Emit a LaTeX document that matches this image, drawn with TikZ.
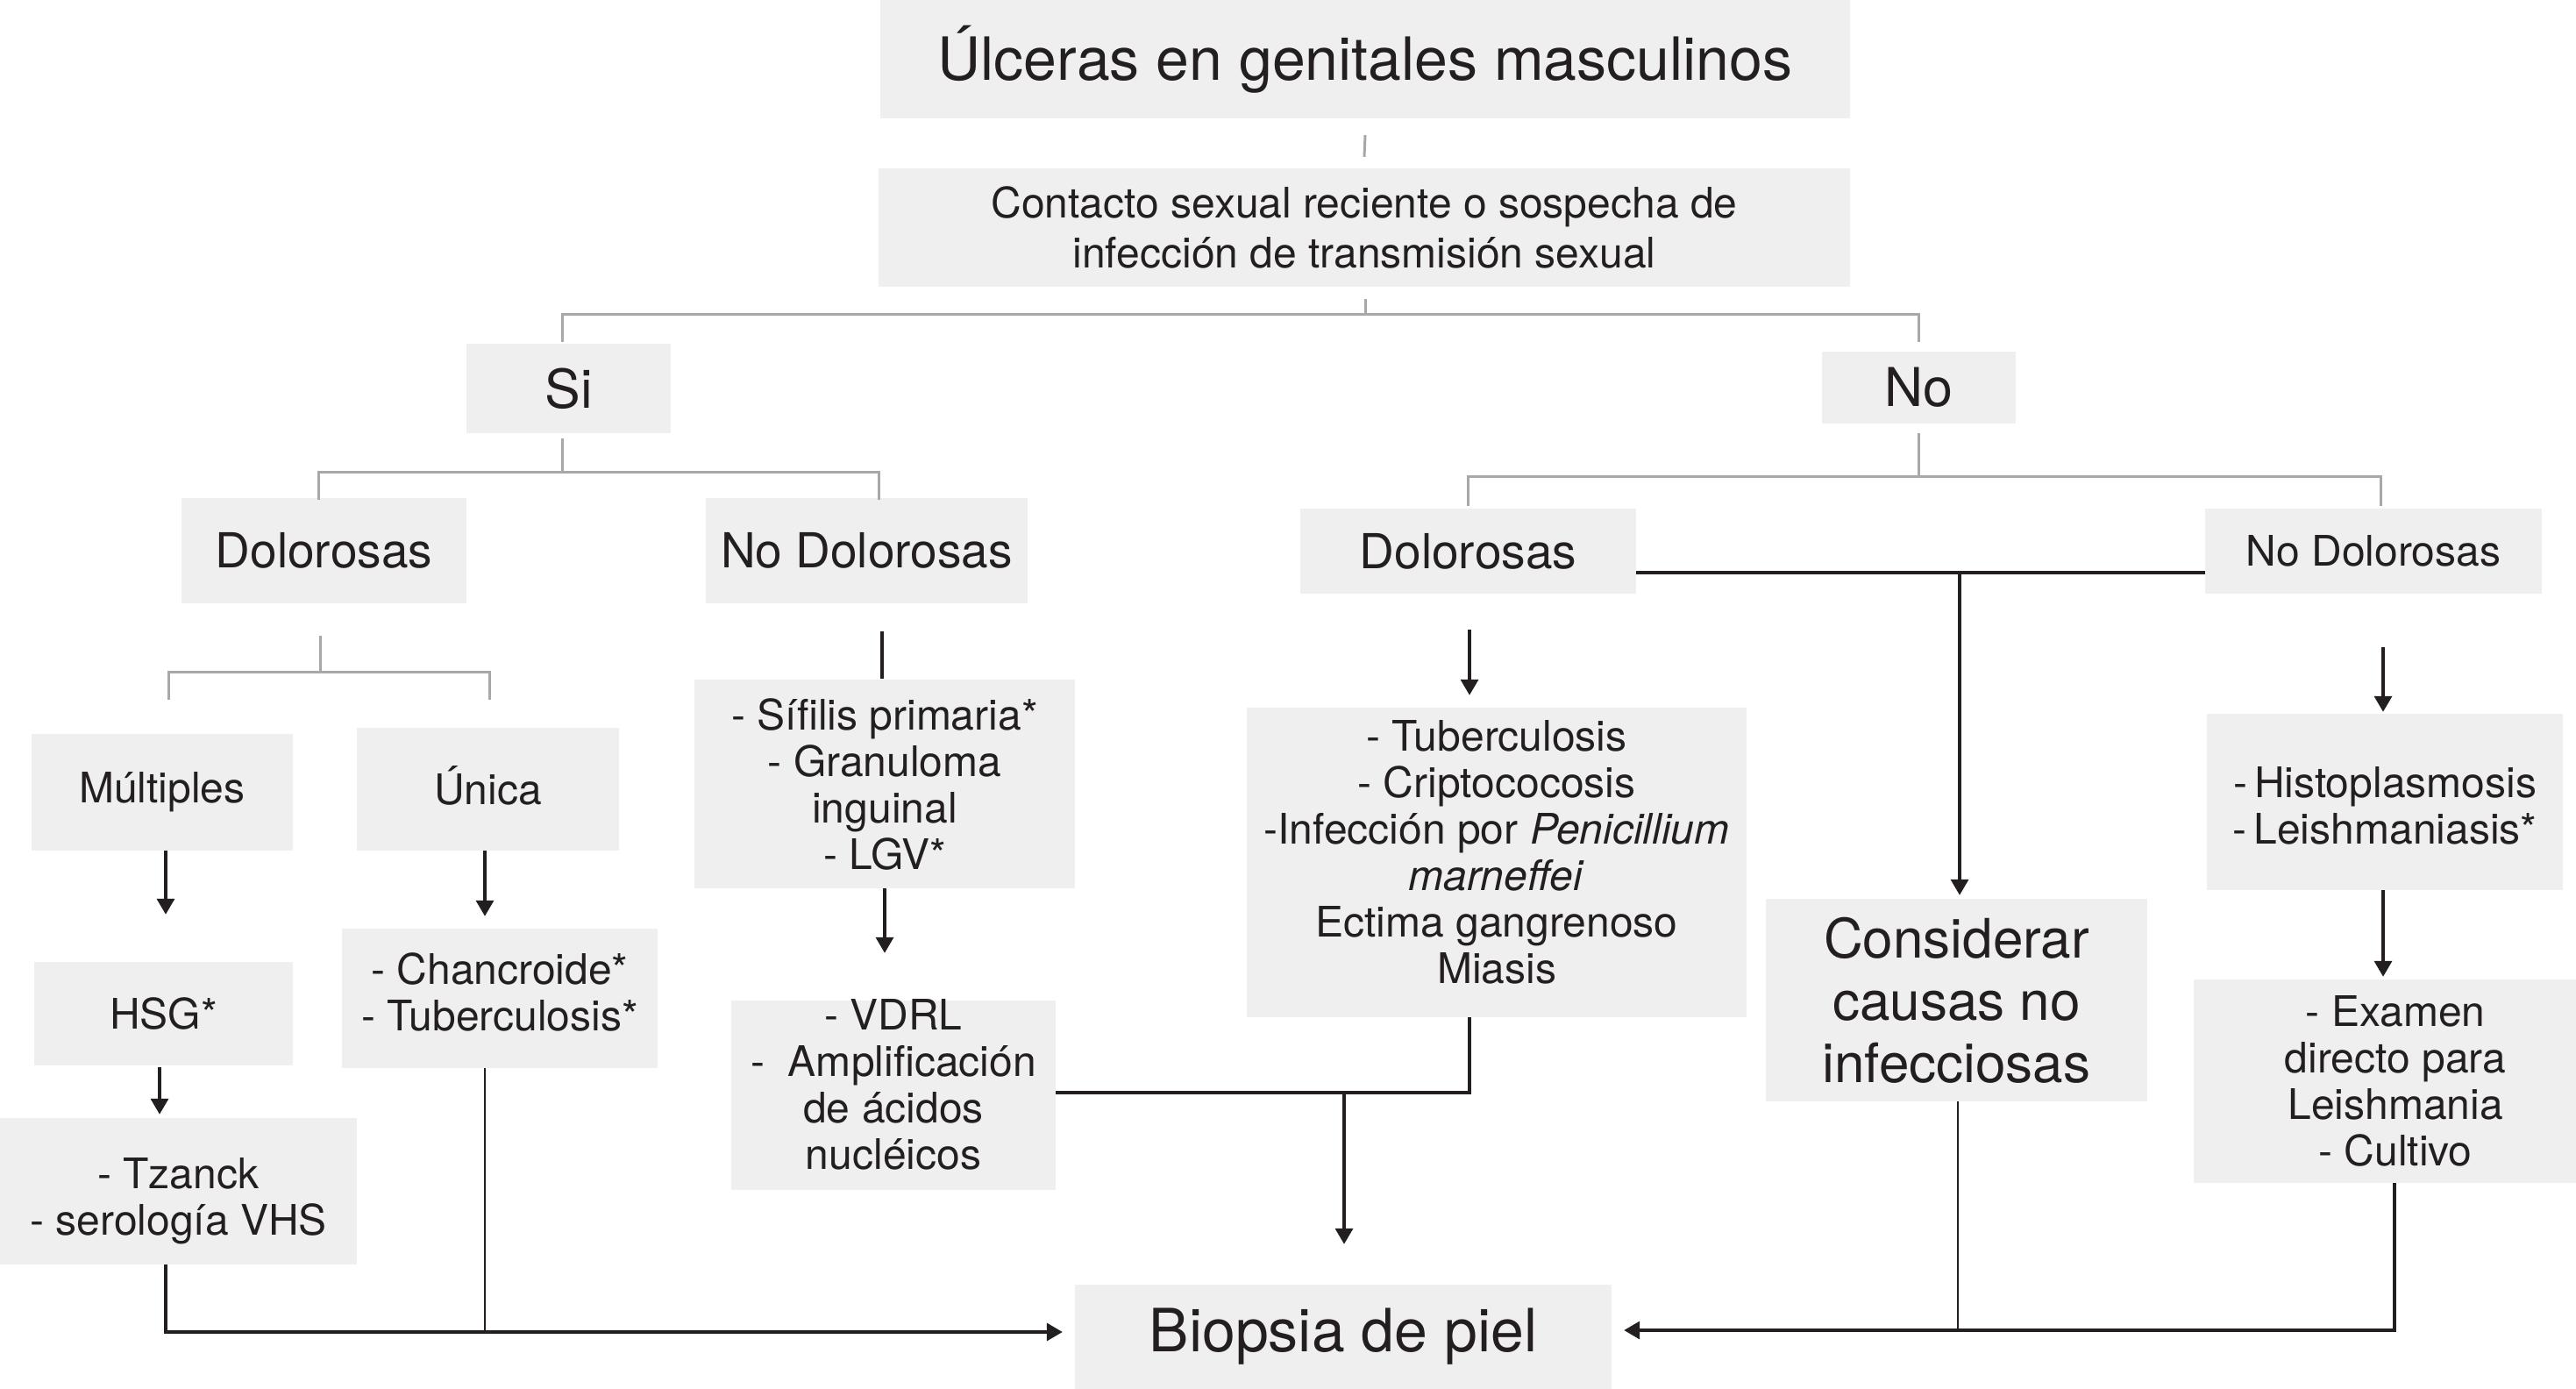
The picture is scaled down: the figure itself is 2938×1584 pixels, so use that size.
\documentclass[tikz,border=0pt]{standalone}
\usepackage{fontspec}
\setmainfont{TeX Gyre Heros}
\usetikzlibrary{arrows.meta}
\definecolor{boxgray}{HTML}{EFEFEF}
\definecolor{linegray}{HTML}{A8A8A8}
\definecolor{ink}{HTML}{231F20}
\newcommand{\fs}[2]{\fontsize{#1}{#2}\selectfont}
\begin{document}
\begin{tikzpicture}[x=1pt,y=-1pt,
  box/.style={fill=boxgray, inner sep=0pt, align=center, text=ink},
  body/.style={font=\fs{48}{53}},
  mid/.style={font=\fs{55}{60}},
  inner/.style={body, align=center, inner sep=0pt, text=ink},
  gline/.style={draw=linegray, line width=3pt},
  bline/.style={draw=ink, line width=3.5pt},
  tline/.style={draw=ink, line width=2pt},
  arr/.style={draw=ink, line width=3.5pt, -{Triangle[length=18pt,width=20pt]}}
]
\useasboundingbox (0,0) rectangle (2938,1584);
% boxes
\node[box, minimum width=1106pt, minimum height=135pt, font=\fs{68}{74}] (title) at (1557,67.5) {Úlceras en genitales masculinos};
\node[box, minimum width=1108pt, minimum height=135pt, font=\fs{48}{57}] (contacto) at (1556,259.5) {Contacto sexual reciente o sospecha de\\infección de transmisión sexual};
\node[box, minimum width=233pt, minimum height=102pt, font=\fs{61}{66}] (si) at (648.5,443) {Si};
\node[box, minimum width=221pt, minimum height=82pt, font=\fs{61}{66}] (no) at (2188.5,442) {No};
\node[box, mid, minimum width=325pt, minimum height=120pt] (dolL) at (369.5,628) {Dolorosas};
\node[box, mid, minimum width=367pt, minimum height=120pt] (nodolL) at (988.5,628) {No Dolorosas};
\node[box, mid, minimum width=383pt, minimum height=97pt] (dolR) at (1674.5,628.5) {Dolorosas};
\node[box, body, minimum width=384pt, minimum height=97pt] (nodolR) at (2707,628.5) {No Dolorosas};
\node[box, body, minimum width=298pt, minimum height=133pt] (mult) at (185,903.5) {Múltiples};
\node[box, minimum width=299pt, minimum height=140pt,
  label={[inner, yshift=4pt]center:Única}] (unica) at (556.5,900) {};
\node[box, body, minimum width=295pt, minimum height=118pt] (hsg) at (186.5,1156) {HSG*};
\node[box, minimum width=360pt, minimum height=159pt,
  label={[inner, yshift=7pt]center:{- Chancroide*\\- Tuberculosis*}}] (chanc) at (570,1138.5) {};
\node[box, minimum width=407pt, minimum height=167pt,
  label={[inner, yshift=-11pt]center:{- Tzanck\\- serología VHS}}] (tzanck) at (203.5,1358.5) {};
\node[box, body, minimum width=434pt, minimum height=238pt] (sifilis) at (1009,894) {- Sífilis primaria*\\- Granuloma\\inguinal\\- LGV*};
\node[box, minimum width=370pt, minimum height=216pt,
  label={[inner, yshift=12pt]center:{- VDRL\\-\ \ Amplificación\\de ácidos\\nucléicos}}] (vdrl) at (1019,1249) {};
\node[box, minimum width=570pt, minimum height=353pt,
  label={[inner, yshift=12pt]center:{- Tuberculosis\\- Criptococosis\\-Infección por \textit{Penicillium}\\\textit{marneffei}\\Ectima gangrenoso\\Miasis}}] (tuber) at (1707,983.5) {};
\node[box, minimum width=435pt, minimum height=231pt, font=\fs{62}{71}] (consid) at (2231.5,1140.5) {Considerar\\causas no\\infecciosas};
\node[box, minimum width=406pt, minimum height=201pt,
  label={[inner, yshift=-4pt]center:{-\,Histoplasmosis\\-\,Leishmaniasis*}}] (histo) at (2720,914.5) {};
\node[box, body, minimum width=436pt, minimum height=232pt] (examen) at (2720,1233) {\hspace*{24pt}- Examen\\\hspace*{24pt}directo para\\\hspace*{24pt}Leishmania\\\hspace*{24pt}- Cultivo};
\node[box, minimum width=612pt, minimum height=119pt, font=\fs{68}{74}] (biopsia) at (1532,1524.5) {Biopsia de piel};
% gray tree connectors
\draw[gline] ([yshift=-19pt]title.south) -- ([yshift=13pt]contacto.north);
\draw[gline] ([xshift=1pt,yshift=-14pt]contacto.south) -- ++(0,17) coordinate (c1);
\draw[gline] ([xshift=-7pt,yshift=2pt]si.north) |- (c1) -| ([yshift=11pt]no.north);
\draw[gline] ([xshift=-7pt,yshift=-6pt]si.south) -- ++(0,38) coordinate (s1);
\draw[gline] ([xshift=-6.5pt,yshift=-2pt]dolL.north) |- (s1) -| ([xshift=13.5pt,yshift=-2pt]nodolL.north);
\draw[gline] ([yshift=-11pt]no.south) -- ++(0,49) coordinate (n1);
\draw[gline] ([yshift=3pt]dolR.north) |- (n1) -| ([xshift=8pt,yshift=3pt]nodolR.north);
\draw[gline] ([xshift=-4.5pt,yshift=-37pt]dolL.south) -- ++(0,41) coordinate (d1);
\draw[gline] ([xshift=7pt,yshift=39pt]mult.north) |- (d1) -| ([xshift=1.5pt,yshift=32pt]unica.north);
% black connectors, left
\draw[bline] ([xshift=17.5pt,yshift=-32pt]nodolL.south) -- ([xshift=-3pt,yshift=1pt]sifilis.north);
\draw[arr] ([xshift=4pt]mult.south) -- ([xshift=2.5pt,yshift=54pt]hsg.north);
\draw[arr] ([xshift=-3.5pt]unica.south) -- ([xshift=-17pt,yshift=14pt]chanc.north);
\draw[arr] ([xshift=-4.5pt,yshift=-2pt]hsg.south) -- ([xshift=-21.5pt,yshift=4pt]tzanck.north);
\draw[arr] (sifilis.south) -- ([xshift=-10pt,yshift=54pt]vdrl.north);
\draw[arr] ([xshift=-14.5pt]tzanck.south) |- ([xshift=-14pt,yshift=5.5pt]biopsia.west);
\draw[tline] ([xshift=-17pt]chanc.south) -- ++(0,299) coordinate (cj);
% middle
\draw[bline] ([yshift=3pt]vdrl.east) -| ([xshift=-31pt]tuber.south);
\coordinate (j1) at (1533,1246);
\draw[arr] (j1) -- ([xshift=1pt,yshift=46pt]biopsia.north);
\draw[arr] ([xshift=1.5pt,yshift=-41pt]dolR.south) -- ([xshift=-31pt,yshift=14pt]tuber.north);
\draw[bline] ([yshift=-24.5pt]dolR.east) -- ([yshift=-24.5pt]nodolR.west);
\coordinate (j2) at (2235,653);
\draw[arr] (j2) -- ([xshift=3.5pt,yshift=4pt]consid.north);
\draw[tline] ([xshift=1.5pt]consid.south) -- ++(0,261) coordinate (kj);
% right
\draw[arr] ([xshift=11pt,yshift=-61pt]nodolR.south) -- ([xshift=-2pt,yshift=2pt]histo.north);
\draw[arr] ([xshift=-2pt]histo.south) -- ([xshift=-2pt,yshift=3pt]examen.north);
\draw[arr] ([xshift=11pt]examen.south) |- ([xshift=14pt,yshift=7.5pt]biopsia.east);
\end{tikzpicture}
\end{document}
